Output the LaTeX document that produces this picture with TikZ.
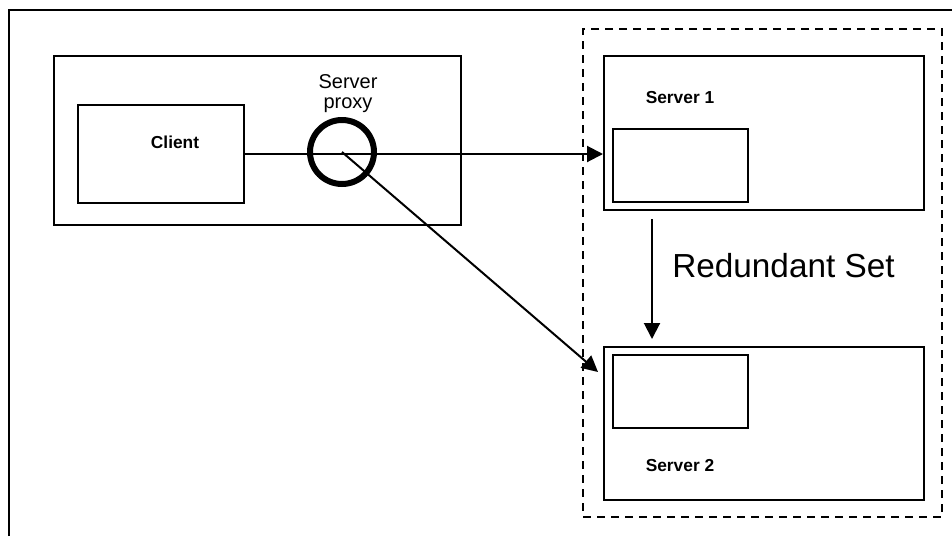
\documentclass[tikz,border=0pt]{standalone}
\usepackage{fontspec}
\setmainfont{Liberation Sans}
\usetikzlibrary{arrows.meta,fit,calc}
\begin{document}
\begin{tikzpicture}[x=0.75pt,y=-0.75pt,
  box/.style={draw,line width=1.5pt,inner sep=0pt},
  lbl/.style={font=\fontsize{13pt}{16pt}\selectfont\bfseries,inner sep=0pt},
  conn/.style={line width=1.5pt},
  arr/.style={line width=1.5pt,-{Triangle[length=12pt,width=12pt]}}]
\useasboundingbox (0,0) rectangle (952,536);
% outer frame (open to right and bottom)
\draw[line width=1.5pt] (9,536) -- (9,10) -- (952,10);
% client side
\node[box,fit={(54,56)(461,225)}] (wrap) {};
\node[box,fit={(78,105)(244,203)}] (client) {};
\node[lbl] (clientt) at (175,142) {Client};
\node[draw,circle,line width=4.5pt,minimum size=48pt,inner sep=0pt] (proxy) at (342,152) {};
\node[align=center,font=\fontsize{15pt}{15pt}\selectfont,inner sep=0pt] (proxyt) at (348,94) {Server\\proxy};
% redundant set
\node[draw,dashed,line width=1.5pt,dash pattern=on 6pt off 4.5pt,inner sep=0pt,fit={(583,29)(942,517)}] (rset) {};
\node[box,fit={(604,56)(924,210)}] (s1) {};
\node[box,fit={(613,129)(748,202)}] (s1in) {};
\node[lbl] (s1t) at (680,98) {Server 1};
\node[box,fit={(604,347)(924,500)}] (s2) {};
\node[box,fit={(613,355)(748,428)}] (s2in) {};
\node[lbl] (s2t) at (680,466) {Server 2};
\node[anchor=west,font=\fontsize{25pt}{30pt}\selectfont,inner sep=0pt] (rst) at (672,266) {Redundant Set};
\coordinate (d2) at (598,372);
\coordinate (v1) at (652,219);
\coordinate (v2) at (652,339);
% connectors
\draw[arr] (client.east) -- (client.east -| s1.west);
\draw[arr] (proxy.center) -- (d2);
\draw[arr] (v1) -- (v2);
\end{tikzpicture}
\end{document}
